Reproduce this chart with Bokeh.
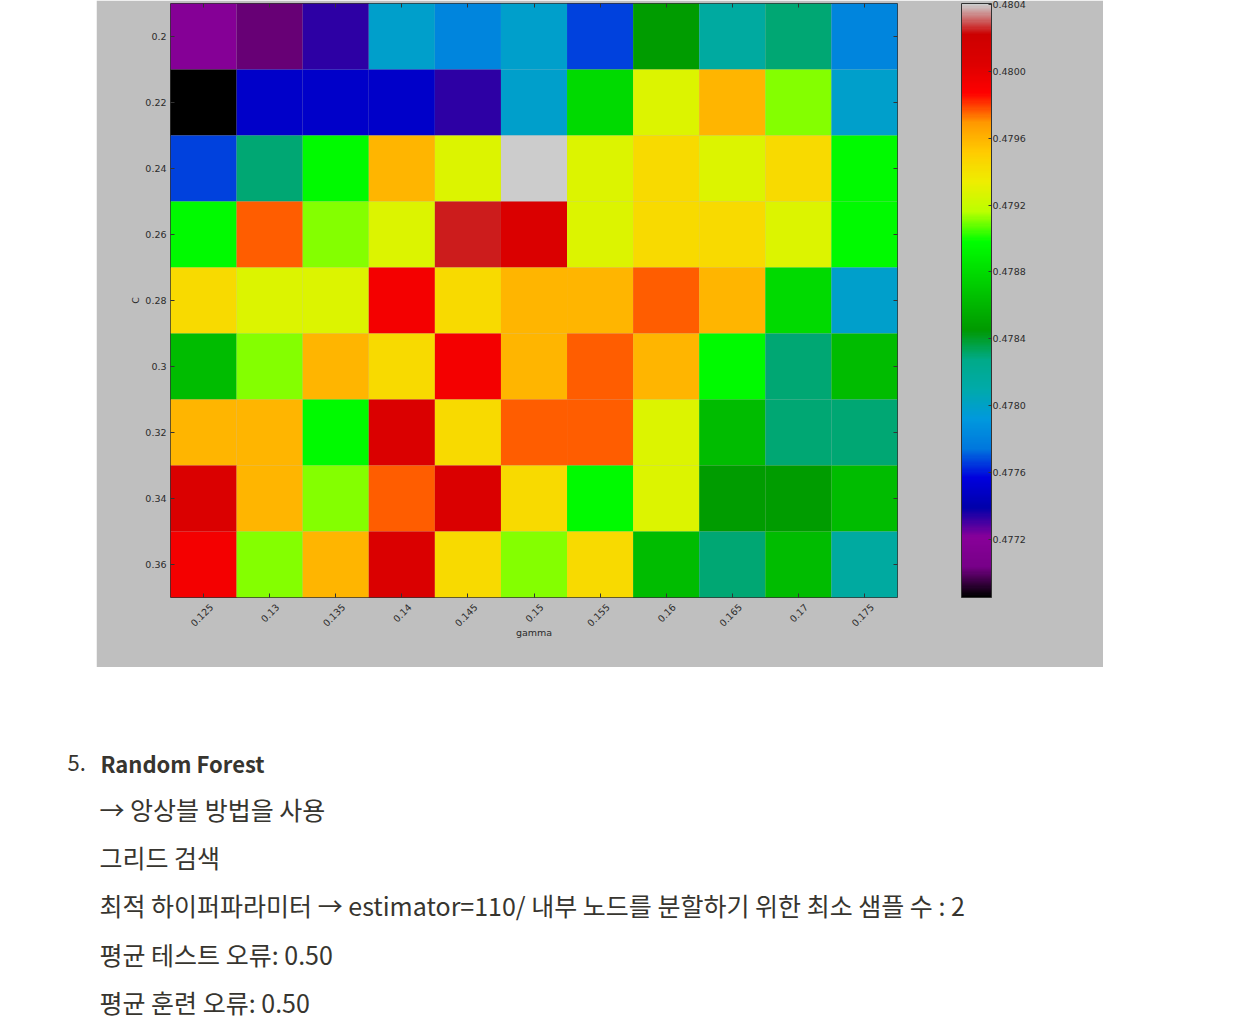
import math
import numpy as np
from bokeh.plotting import figure
from bokeh.models import (ColumnDataSource, LinearColorMapper, ColorBar, FixedTicker,
                          PrintfTickFormatter, Label, LinearAxis, CategoricalAxis,
                          Spacer, Range1d)
from bokeh.transform import transform
from bokeh.layouts import column, row
from bokeh.embed import file_html
from bokeh.resources import INLINE

# ---------------- data ----------------
gamma_labels = ["0.125", "0.13", "0.135", "0.14", "0.145", "0.15",
                "0.155", "0.16", "0.165", "0.17", "0.175"]
c_labels = ["0.2", "0.22", "0.24", "0.26", "0.28", "0.3", "0.32", "0.34", "0.36"]

# mean validation score, one list per C value (columns follow gamma_labels)
score_c020 = [0.477173, 0.477012, 0.477335, 0.477982, 0.477820, 0.477982, 0.477659, 0.478467, 0.478144, 0.478305, 0.477820]
score_c022 = [0.476850, 0.477497, 0.477497, 0.477497, 0.477335, 0.477982, 0.478790, 0.479276, 0.479599, 0.479114, 0.477982]
score_c024 = [0.477659, 0.478305, 0.478952, 0.479599, 0.479276, 0.480407, 0.479276, 0.479437, 0.479276, 0.479437, 0.478952]
score_c026 = [0.478952, 0.479761, 0.479114, 0.479276, 0.480246, 0.480084, 0.479276, 0.479437, 0.479437, 0.479276, 0.478952]
score_c028 = [0.479437, 0.479276, 0.479276, 0.479922, 0.479437, 0.479599, 0.479599, 0.479761, 0.479599, 0.478790, 0.477982]
score_c030 = [0.478629, 0.479114, 0.479599, 0.479437, 0.479922, 0.479599, 0.479761, 0.479599, 0.478952, 0.478305, 0.478629]
score_c032 = [0.479599, 0.479599, 0.478952, 0.480084, 0.479437, 0.479761, 0.479761, 0.479276, 0.478629, 0.478305, 0.478305]
score_c034 = [0.480084, 0.479599, 0.479114, 0.479761, 0.480084, 0.479437, 0.478952, 0.479276, 0.478467, 0.478467, 0.478629]
score_c036 = [0.479922, 0.479114, 0.479599, 0.480084, 0.479437, 0.479114, 0.479437, 0.478629, 0.478305, 0.478629, 0.478144]

colorbar_ticks = [0.4772, 0.4776, 0.4780, 0.4784, 0.4788, 0.4792, 0.4796, 0.4800, 0.4804]
score_low = 0.476850
score_high = 0.480407

heading_number = "5."
heading_text = "Random Forest"
text_lines = [
    "→ 앙상블 방법을 사용",
    "그리드 검색",
    "최적 하이퍼파라미터 → estimator=110/ 내부 노드를 분할하기 위한 최소 샘플 수 : 2",
    "평균 테스트 오류: 0.50",
    "평균 훈련 오류: 0.50",
]

# ---------------- colormap (nipy_spectral) ----------------
_pos = [i * 0.05 for i in range(21)]
_r = [0.0, 0.4667, 0.5333, 0, 0, 0, 0, 0, 0, 0, 0, 0, 0, 0.7333, 0.9333, 1, 1, 1, 0.8667, 0.8, 0.8]
_g = [0, 0, 0, 0, 0, 0.4667, 0.6, 0.6667, 0.6667, 0.6, 0.7333, 0.8667, 1, 1, 0.9333, 0.8, 0.6, 0, 0, 0, 0.8]
_b = [0, 0.5333, 0.6, 0.6667, 0.8667, 0.8667, 0.8667, 0.6667, 0.5333, 0, 0, 0, 0, 0, 0, 0, 0, 0, 0, 0, 0.8]
_t = np.linspace(0, 1, 256)
palette = ["#%02x%02x%02x" % (int(round(255 * np.interp(t, _pos, _r))),
                              int(round(255 * np.interp(t, _pos, _g))),
                              int(round(255 * np.interp(t, _pos, _b)))) for t in _t]

rows = [score_c020, score_c022, score_c024, score_c026, score_c028,
        score_c030, score_c032, score_c034, score_c036]
xs, ys, vs, gl = [], [], [], []
for c, vals in zip(c_labels, rows):
    for gi, (g, v) in enumerate(zip(gamma_labels, vals)):
        xs.append(gi); ys.append(c); vs.append(v); gl.append(g)
src = ColumnDataSource(dict(gamma_idx=xs, gamma=gl, C=ys, score=vs))

mapper = LinearColorMapper(palette=palette, low=score_low, high=score_high)

GRAY = "#BFBFBF"
INK = "#2b2b2b"
TICK = "#333333"
FONT = "DejaVu Sans"

p = figure(width=1007, height=667, x_range=Range1d(-0.5, len(gamma_labels) - 0.5),
           y_range=list(reversed(c_labels)),
           toolbar_location=None, output_backend="svg",
           background_fill_color=GRAY, border_fill_color=GRAY,
           min_border_left=74, min_border_right=206, min_border_top=3, min_border_bottom=70,
           outline_line_color=TICK, outline_line_width=1)
p.rect(x="gamma_idx", y="C", width=1, height=1, source=src,
       fill_color=transform("score", mapper), line_color=None)
p.grid.visible = False


def tick_only(ax):
    """inward tick marks, no drawn labels"""
    ax.minor_tick_line_color = None
    ax.major_label_text_color = None
    ax.major_label_text_font_size = "0px"
    ax.major_label_standoff = 0
    ax.major_tick_in = 4
    ax.major_tick_out = 0
    ax.major_tick_line_color = TICK
    ax.axis_line_color = None


# primary x axis: inward tick marks at cell centres
xa = p.xaxis[0]
xa.ticker = FixedTicker(ticks=list(range(len(gamma_labels))))
tick_only(xa)

# top and right inward ticks (matplotlib classic style)
xt = LinearAxis(ticker=FixedTicker(ticks=list(range(len(gamma_labels)))))
tick_only(xt)
p.add_layout(xt, "above")
yr = CategoricalAxis()
tick_only(yr)
p.add_layout(yr, "right")

# label axis: rotated gamma labels centred under the ticks like matplotlib
label_pos = [i + 0.12 for i in range(len(gamma_labels))]
xl = LinearAxis(ticker=FixedTicker(ticks=label_pos),
                major_label_overrides={lp: g for lp, g in zip(label_pos, gamma_labels)},
                major_label_orientation=math.pi / 4,
                major_label_text_font=FONT, major_label_text_font_size="9.5px",
                major_label_text_color=INK, major_label_standoff=2,
                major_tick_line_color=None, minor_tick_line_color=None,
                axis_line_color=None, axis_label="gamma",
                axis_label_text_font=FONT, axis_label_text_font_size="9.5px",
                axis_label_text_color=INK, axis_label_text_font_style="normal",
                axis_label_standoff=-6)
p.add_layout(xl, "below")

ya = p.yaxis[0]
ya.major_label_text_font = FONT
ya.major_label_text_font_size = "9.5px"
ya.major_label_text_color = INK
ya.axis_label = "C"
ya.axis_label_text_font = FONT
ya.axis_label_text_font_size = "9.5px"
ya.axis_label_text_color = INK
ya.axis_label_text_font_style = "normal"
ya.axis_label_standoff = 1
ya.major_tick_in = 4
ya.major_tick_out = 0
ya.major_tick_line_color = TICK
ya.axis_line_color = None
ya.major_label_standoff = 4

cb = ColorBar(color_mapper=mapper, width=30, height=594, padding=0, margin=0,
              location=(791, 0),
              ticker=FixedTicker(ticks=colorbar_ticks),
              formatter=PrintfTickFormatter(format="%.4f"),
              major_label_text_font=FONT, major_label_text_font_size="9.5px",
              major_label_text_color=INK, label_standoff=1,
              major_tick_in=3, major_tick_out=0, major_tick_line_color=TICK,
              bar_line_color=TICK, border_line_color=None,
              background_fill_color=GRAY, background_fill_alpha=0)
p.add_layout(cb, "center")

# ---------------- text section ----------------
t = figure(width=1246, height=365, x_range=Range1d(0, 1246), y_range=Range1d(1032, 667),
           toolbar_location=None, output_backend="svg", min_border=0,
           x_axis_location=None, y_axis_location=None,
           outline_line_color=None, background_fill_color="#ffffff", border_fill_color="#ffffff")
t.grid.visible = False
TXT = "#37352F"
KFONT = "Noto Sans CJK KR"
t.add_layout(Label(x=67, y=762, text=heading_number, text_font=KFONT, text_font_size="22px",
                   text_color=TXT, text_baseline="middle"))
t.add_layout(Label(x=100, y=762, text=heading_text, text_font=KFONT, text_font_size="22px",
                   text_font_style="bold", text_color=TXT, text_baseline="middle"))
for yy, s in zip([808, 856, 904, 953, 1001], text_lines):
    t.add_layout(Label(x=99, y=yy, text=s, text_font=KFONT, text_font_size="25px",
                       text_color=TXT, text_baseline="middle"))

layout = column(row(Spacer(width=96, height=667), p), t)
open("out.html", "w").write(file_html(layout, INLINE))
